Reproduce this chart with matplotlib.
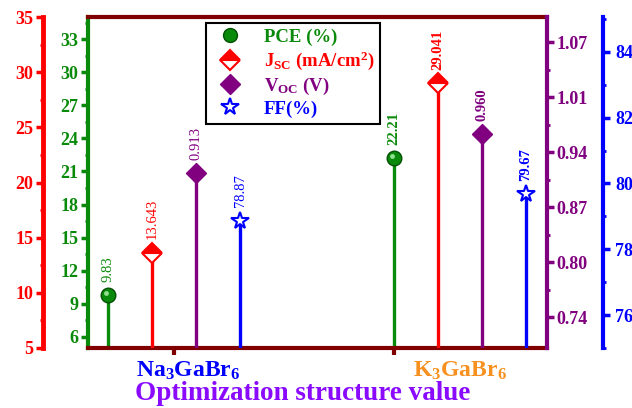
import numpy as np
import matplotlib
matplotlib.use("Agg")
import matplotlib.pyplot as plt
from matplotlib.lines import Line2D
from matplotlib.ticker import MultipleLocator, FixedLocator
from matplotlib.transforms import offset_copy

plt.rcParams['font.family'] = 'Liberation Serif'
plt.rcParams['font.weight'] = 'bold'
plt.rcParams['mathtext.fontset'] = 'custom'
plt.rcParams['mathtext.rm'] = 'Liberation Serif:bold'
plt.rcParams['mathtext.it'] = 'Liberation Serif:bold'
plt.rcParams['mathtext.bf'] = 'Liberation Serif:bold'

# data
materials = ["Na$_3$GaBr$_6$", "K$_3$GaBr$_6$"]
pce = [9.83, 22.21]
jsc = [13.643, 29.041]
voc = [0.913, 0.960]
ff = [78.87, 79.67]
pce_txt = ["9.83", "22.21"]
jsc_txt = ["13.643", "29.041"]
voc_txt = ["0.913", "0.960"]
ff_txt = ["78.87", "79.67"]
voc_ticks = ["0.74", "0.80", "0.87", "0.94", "1.01", "1.07"]

green = "#0a8a0a"
red = "#ff0000"
purple = "#800080"
blue = "#0000ff"
maroon = "#800000"

fig = plt.figure(figsize=(6.32, 4.08), dpi=100)
ax = fig.add_axes([88/632, 60/408, 459/632, 331/408])
ax_r = ax.twinx()
ax_p = ax.twinx()
ax_b = ax.twinx()

# stem x positions for each group
offs = [np.array([-0.3, -0.1, 0.1, 0.3]), np.array([0.0, 0.2, 0.4, 0.6])]
xs = [1 + offs[0], 2 + offs[1]]

ax.set_xlim(0.609, 2.695)
ax.set_ylim(5, 35)
ax_r.set_ylim(5, 35)
ax_p.set_ylim(0.703, 1.10)
ax_b.set_ylim(75, 85.06)

lw = 2.4
for i in range(2):
    x = xs[i]
    ax.vlines(x[0], 5, pce[i], color=green, lw=lw)
    ax_r.vlines(x[1], 5, jsc[i], color=red, lw=lw)
    ax_p.vlines(x[2], 0.703, voc[i], color=purple, lw=lw)
    ax_b.vlines(x[3], 75, ff[i], color=blue, lw=lw)

    ax.plot(x[0], pce[i], 'o', ms=10.5, color=green, mec="#045004", zorder=5)
    hl = offset_copy(ax.transData, fig=fig, x=-1.5, y=1.5, units='points')
    ax.plot(x[0], pce[i], 'o', ms=3.5, color="#8fe08f", mec='none', transform=hl, zorder=6)
    ax_r.plot(x[1], jsc[i], 'D', ms=10, mfc=red, mfcalt='white', fillstyle='top',
              mec=red, mew=1.5, zorder=5)
    ax_p.plot(x[2], voc[i], 'D', ms=10, color=purple, zorder=5)
    ax_b.plot(x[3], ff[i], '*', ms=13, mfc='white', mec=blue, mew=1.5, zorder=5)

    kw = dict(xytext=(0, 9.5), textcoords='offset points', rotation=90,
              ha='center', va='bottom', fontsize=10.5,
              fontweight='normal' if i == 0 else 'bold')
    ax.annotate(pce_txt[i], (x[0], pce[i]), color=green, **kw)
    ax_r.annotate(jsc_txt[i], (x[1], jsc[i]), color=red, **kw)
    ax_p.annotate(voc_txt[i], (x[2], voc[i]), color=purple, **kw)
    ax_b.annotate(ff_txt[i], (x[3], ff[i]), color=blue, **kw)

# spines
for a in (ax, ax_r, ax_p, ax_b):
    for s in a.spines.values():
        s.set_visible(False)

ax.spines['top'].set_visible(True)
ax.spines['bottom'].set_visible(True)
ax.spines['top'].set_color(maroon)
ax.spines['bottom'].set_color(maroon)
ax.spines['top'].set_linewidth(3)
ax.spines['bottom'].set_linewidth(3)
ax.spines['left'].set_visible(True)
ax.spines['left'].set_color(green)
ax.spines['left'].set_linewidth(3)

# outward offsets are in points (45 px and 56 px at 100 dpi)
ax_r.yaxis.set_ticks_position('left')
ax_r.spines['left'].set_visible(True)
ax_r.spines['left'].set_position(('outward', 45 * 0.72))
ax_r.spines['left'].set_color(red)
ax_r.spines['left'].set_linewidth(3.5)

ax_p.spines['right'].set_visible(True)
ax_p.spines['right'].set_color(purple)
ax_p.spines['right'].set_linewidth(3)

ax_b.spines['right'].set_visible(True)
ax_b.spines['right'].set_position(('outward', 56 * 0.72))
ax_b.spines['right'].set_color(blue)
ax_b.spines['right'].set_linewidth(3)

# ticks
tfs = 13
ax.yaxis.set_major_locator(FixedLocator(np.arange(6, 34, 3)))
ax.yaxis.set_minor_locator(MultipleLocator(1.5))
ax.tick_params(axis='y', which='major', colors=green, length=5, width=2.5, labelsize=tfs, pad=2)
ax.tick_params(axis='y', which='minor', colors=green, length=2.5, width=2)

ax_r.yaxis.set_major_locator(MultipleLocator(5))
ax_r.yaxis.set_minor_locator(MultipleLocator(2.5))
ax_r.tick_params(axis='y', which='major', colors=red, length=5, width=2.5, labelsize=tfs, pad=2)
ax_r.tick_params(axis='y', which='minor', colors=red, length=2.5, width=2)

pt = np.linspace(0.74, 1.07, 6)
ax_p.set_yticks(pt)
ax_p.set_yticklabels(voc_ticks)
ax_p.yaxis.set_minor_locator(FixedLocator((pt[:-1] + pt[1:]) / 2))
ax_p.tick_params(axis='y', which='major', colors=purple, length=5, width=2.5, labelsize=tfs, pad=2)
ax_p.tick_params(axis='y', which='minor', colors=purple, length=2.5, width=2)

ax_b.set_yticks(np.arange(76, 85, 2))
ax_b.yaxis.set_minor_locator(FixedLocator(np.arange(75, 86, 2)))
ax_b.tick_params(axis='y', which='major', colors=blue, length=5, width=2.5, labelsize=tfs, pad=4)
ax_b.tick_params(axis='y', which='minor', colors=blue, length=2.5, width=2)

ax.set_xticks([1, 2])
ax.set_xticklabels([])
ax.tick_params(axis='x', colors=maroon, length=5, width=3)
ax.text(1.066, -0.035, materials[0], transform=ax.get_xaxis_transform(), color=blue,
        fontsize=17, ha='center', va='top')
ax.text(2.3, -0.035, materials[1], transform=ax.get_xaxis_transform(), color="#f7901e",
        fontsize=17, ha='center', va='top')
fig.text(303/632, 0.036, "Optimization structure value", color="#8a0aff",
         fontsize=19.5, ha='center', va='center')

handles = [
    Line2D([], [], ls='none', marker='o', ms=10, color=green, mec="#045004"),
    Line2D([], [], ls='none', marker='D', ms=10, mfc=red, mfcalt='white',
           fillstyle='top', mec=red, mew=1.5),
    Line2D([], [], ls='none', marker='D', ms=10, color=purple),
    Line2D([], [], ls='none', marker='*', ms=13, mfc='white', mec=blue, mew=1.5),
]
labels = ["PCE (%)", "J$_{SC}$ (mA/cm$^2$)", "V$_{OC}$ (V)", "FF(%)"]
leg = ax_b.legend(handles, labels, loc='upper left', bbox_to_anchor=(0.257, 0.982),
                  borderaxespad=0, fancybox=False, framealpha=1, edgecolor='black',
                  fontsize=13.5, labelspacing=0.2, handletextpad=0.8, borderpad=0.3)
leg.get_frame().set_linewidth(1.5)
for t, c in zip(leg.get_texts(), [green, red, purple, blue]):
    t.set_color(c)
leg.set_zorder(20)

fig.savefig("out.png", dpi=100)
